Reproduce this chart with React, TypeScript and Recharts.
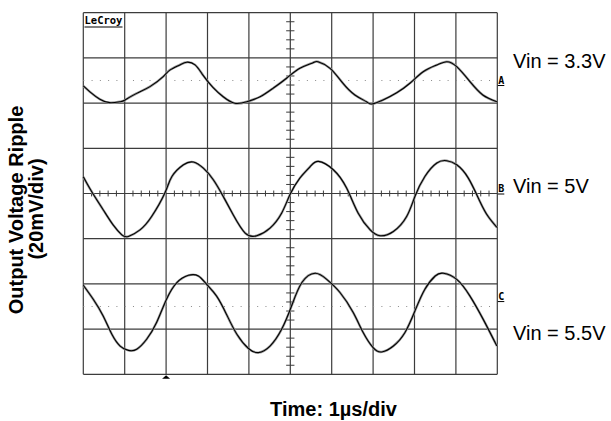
import React from 'react';
import {
  LineChart,
  Line,
  XAxis,
  YAxis,
  CartesianGrid,
  ReferenceLine,
  ReferenceDot
} from 'recharts';

// Scope screen: 10 x 8 divisions, 1us/div, 20mV/div
const X_TICKS = [0, 1, 2, 3, 4, 5, 6, 7, 8, 9, 10];
const Y_TICKS = [0, 1, 2, 3, 4, 5, 6, 7, 8];
const MV_PER_DIV = 20;

// Channel ground levels (divisions from bottom) and marker levels
const OFFSET_A = 6.5;
const OFFSET_B = 4;
const OFFSET_C = 1.5;
const MARKER_LEVELS = [6.4, 4, 1.62];
const MARKER_NAMES = ['A', 'B', 'C'];
const TRIGGER_TIME = 2;

// Vin = 3.3V trace (time us, ripple mV)
const TIME_A = [0, 0.16, 0.40, 0.64, 0.89, 1.01, 1.29, 1.61, 1.93, 2.09, 2.33, 2.50, 2.70, 2.89, 3.13, 3.38, 3.66, 3.95, 4.27, 4.58, 4.91, 5.23, 5.55, 5.67, 5.96, 6.27, 6.56, 6.84, 6.97, 7.24, 7.57, 7.89, 8.21, 8.54, 8.78, 9.02, 9.34, 9.65, 9.99];
const RIPPLE_A = [-2.4, -5.0, -8.3, -9.8, -9.4, -8.6, -5.7, -2.7, 1.7, 4.6, 6.9, 8.1, 6.9, 2.4, -3.0, -7.2, -10.1, -9.4, -7.2, -3.5, 1.0, 5.4, 7.9, 8.3, 5.4, -1.2, -6.4, -9.4, -10.4, -8.6, -5.4, -1.2, 3.9, 6.9, 8.3, 6.1, -0.5, -6.4, -9.4];

// Vin = 5V trace
const TIME_B = [0, 0.20, 0.48, 0.72, 0.93, 1.09, 1.37, 1.65, 1.97, 2.14, 2.42, 2.66, 2.90, 3.14, 3.38, 3.62, 3.91, 4.19, 4.51, 4.79, 4.99, 5.23, 5.48, 5.68, 6.04, 6.36, 6.64, 6.93, 7.17, 7.49, 7.81, 8.01, 8.25, 8.54, 8.78, 9.02, 9.30, 9.58, 9.78, 9.99];
const RIPPLE_B = [7.4, 0.9, -7.2, -13.9, -18.3, -19.0, -16.1, -10.2, 0.2, 7.5, 12.7, 13.9, 11.2, 6.1, -1.3, -9.4, -17.5, -18.7, -15.3, -8.7, -0.6, 6.8, 11.9, 14.2, 10.5, 2.4, -8.7, -16.1, -18.7, -16.8, -10.2, -1.3, 7.5, 13.5, 14.5, 12.7, 6.8, -3.5, -10.2, -15.0];

// Vin = 5.5V trace
const TIME_C = [0, 0.24, 0.48, 0.69, 0.89, 1.09, 1.29, 1.53, 1.77, 2.01, 2.26, 2.54, 2.78, 2.98, 3.22, 3.46, 3.71, 3.99, 4.23, 4.51, 4.79, 5.03, 5.28, 5.60, 5.88, 6.20, 6.52, 6.76, 7.00, 7.21, 7.49, 7.77, 8.01, 8.25, 8.50, 8.70, 9.02, 9.34, 9.66, 9.99];
const RIPPLE_C = [9.4, 3.2, -4.2, -12.3, -17.5, -19.4, -18.9, -14.5, -7.1, 3.2, 10.6, 13.8, 13.5, 9.8, 4.6, -3.5, -12.3, -18.6, -20.4, -17.5, -10.1, 0.2, 10.6, 14.7, 12.0, 6.2, -2.7, -11.5, -18.2, -20.1, -17.5, -11.5, -2.0, 7.6, 13.5, 14.7, 12.0, 4.6, -5.7, -17.5];

const toSeries = (times: number[], ripple: number[], offset: number) =>
  times.map((t, i) => ({ t, v: offset + ripple[i] / MV_PER_DIV }));

const seriesA = toSeries(TIME_A, RIPPLE_A, OFFSET_A);
const seriesB = toSeries(TIME_B, RIPPLE_B, OFFSET_B);
const seriesC = toSeries(TIME_C, RIPPLE_C, OFFSET_C);

// minor graticule marks on the centre cross, every 0.2 div
const MINOR_X = Array.from({ length: 49 }, (_, i) => +((i + 1) * 0.2).toFixed(1)).filter(v => v % 1 !== 0);
const MINOR_Y = Array.from({ length: 39 }, (_, i) => +((i + 1) * 0.2).toFixed(1)).filter(v => v % 1 !== 0);

const GRID = '#3c3c3c';
const FONT = '"Liberation Sans", Arial, sans-serif';

const ChannelMark = ({ cx, cy, name }: any) => (
  <g>
    <text x={cx + 1} y={cy - 1.5} fontSize={10} fontWeight="bold" fontFamily='"DejaVu Sans Mono", monospace' fill="#000">
      {name}
    </text>
    <line x1={cx + 0.5} x2={cx + 7} y1={cy + 0.5} y2={cy + 0.5} stroke="#000" strokeWidth={1} />
  </g>
);

const TriggerMark = ({ cx, cy }: any) => (
  <polygon points={`${cx - 4},${cy + 4.5} ${cx + 4},${cy + 4.5} ${cx},${cy + 1}`} fill="#000" />
);

const Trace = ({ data, id }: { data: any[]; id: string }) => [
  <Line key={id + 'f'} data={data} dataKey="v" type="natural" stroke="#9a9a9a" strokeWidth={2.4} dot={false} isAnimationActive={false} />,
  <Line key={id + 'l'} data={data} dataKey="v" type="natural" stroke="#000" strokeWidth={1.1} dot={false} isAnimationActive={false} />
];

export default function App() {
  return (
    <div style={{ position: 'absolute', left: 0, top: 0, width: 611, height: 421, background: '#fff' }}>
      <div style={{ position: 'absolute', left: 0, top: 0 }}>
        <LineChart width={611} height={421} margin={{ top: 12.7, right: 113.7, left: 83.3, bottom: 46.7 }}>
          <XAxis dataKey="t" type="number" domain={[0, 10]} ticks={X_TICKS} hide />
          <YAxis type="number" domain={[0, 8]} ticks={Y_TICKS} hide />
          <CartesianGrid stroke={GRID} strokeWidth={1.2} />
          <ReferenceLine y={OFFSET_A} stroke="#8a8a8a" strokeDasharray="1 7.28" />
          <ReferenceLine y={OFFSET_C} stroke="#8a8a8a" strokeDasharray="1 7.28" />
          {MINOR_Y.map(v => (
            <ReferenceLine key={'my' + v} segment={[{ x: 4.9, y: v }, { x: 5.1, y: v }]} stroke={GRID} />
          ))}
          {MINOR_X.map(v => (
            <ReferenceLine key={'mx' + v} segment={[{ x: v, y: 3.935 }, { x: v, y: 4.065 }]} stroke={GRID} />
          ))}
          {Trace({ data: seriesA, id: 'a' })}
          {Trace({ data: seriesB, id: 'b' })}
          {Trace({ data: seriesC, id: 'c' })}
          {MARKER_LEVELS.map((lv, i) => (
            <ReferenceDot key={'m' + i} x={10} y={lv} r={0} shape={(p: any) => <ChannelMark {...p} name={MARKER_NAMES[i]} />} />
          ))}
          <ReferenceDot x={TRIGGER_TIME} y={0} r={0} shape={(p: any) => <TriggerMark {...p} />} />
        </LineChart>
      </div>
      <svg width={611} height={421} style={{ position: 'absolute', left: 0, top: 0, pointerEvents: 'none' }}>
        <text x={84.5} y={24} fontSize={10.5} fontWeight="bold" fontFamily='"DejaVu Sans Mono", monospace' fill="#000">LeCroy</text>
        <line x1={84.5} x2={122.5} y1={27} y2={27} stroke="#000" strokeWidth={1.2} />
        <g fontFamily={FONT} fontWeight="bold" fontSize={20} fill="#000" textAnchor="middle">
          <text transform="translate(23.3,210) rotate(-90)">Output Voltage Ripple</text>
          <text transform="translate(42.5,209) rotate(-90)">(20mV/div)</text>
          <text x={333.5} y={415.5}>Time: 1µs/div</text>
        </g>
        <g fontFamily={FONT} fontSize={20} fill="#000">
          <text x={513} y={68}>Vin = 3.3V</text>
          <text x={513} y={193}>Vin = 5V</text>
          <text x={513} y={340}>Vin = 5.5V</text>
        </g>
      </svg>
    </div>
  );
}
